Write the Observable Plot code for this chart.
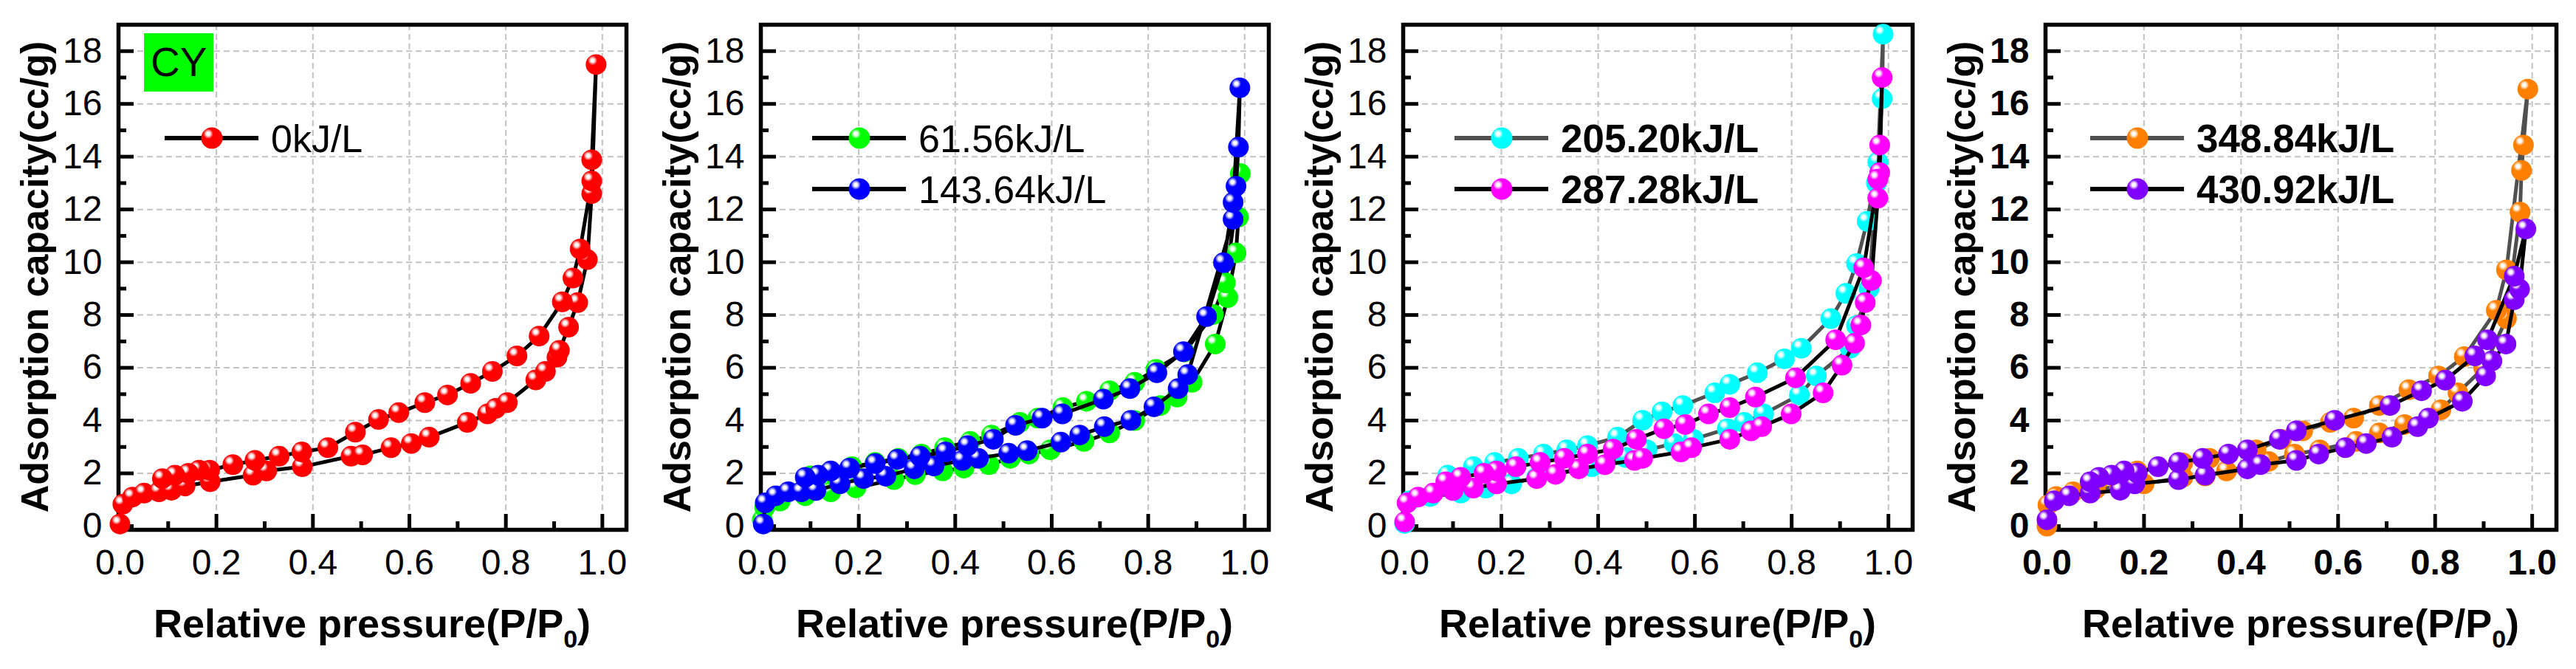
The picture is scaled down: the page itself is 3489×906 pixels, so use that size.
<!DOCTYPE html>
<html><head><meta charset="utf-8">
<script src="https://cdn.jsdelivr.net/npm/d3@7"></script>
<script src="https://cdn.jsdelivr.net/npm/@observablehq/plot@0.6"></script>
<style>
body{margin:0;background:#fff;}
#row{display:flex;width:3489px;height:906px;overflow:hidden;}
#row svg{flex:none;}
</style></head>
<body>
<svg id="defs" width="0" height="0" style="position:absolute;left:0;top:0"></svg>
<div id="row"></div>
<script>
// ---------- data (relative pressure P/P0, adsorbed volume cc/g) ----------
const P0 = [0,0.006,0.026,0.05,0.081,0.107,0.135,0.187,0.276,0.304,0.378,0.479,0.503,0.562,0.604,0.641,0.720,0.762,0.779,0.803,0.862,0.882,0.906,0.911,0.930,0.949,0.969,0.978,0.987,0.978,0.978,0.954,0.939,0.917,0.869,0.823,0.772,0.727,0.679,0.632,0.578,0.536,0.488,0.431,0.377,0.330,0.280,0.234,0.186,0.164,0.142,0.114,0.088];
const V0 = [0.08,0.83,1.1,1.25,1.3,1.36,1.52,1.68,1.93,2.09,2.25,2.65,2.70,2.97,3.13,3.37,3.93,4.25,4.46,4.68,5.54,5.86,6.4,6.66,7.54,8.47,10.1,12.6,17.49,13.88,13.08,10.5,9.4,8.5,7.2,6.45,5.86,5.41,4.97,4.68,4.30,4.04,3.56,2.97,2.81,2.65,2.49,2.33,2.12,2.12,2.0,1.93,1.80];

const P61 = [0,0.005,0.037,0.089,0.142,0.194,0.273,0.317,0.374,0.418,0.470,0.514,0.553,0.597,0.667,0.720,0.772,0.825,0.860,0.891,0.939,0.965,0.982,0.987,0.991,0.960,0.935,0.875,0.816,0.772,0.720,0.672,0.623,0.571,0.534,0.475,0.431,0.378,0.330,0.282,0.234,0.186,0.14,0.1];
const V61 = [0.24,0.7,0.95,1.15,1.3,1.45,1.76,1.95,2.09,2.2,2.33,2.57,2.73,2.89,3.21,3.53,4.0,4.57,4.89,5.45,6.9,8.66,10.35,11.71,13.36,9.22,8.02,6.6,5.94,5.45,5.13,4.73,4.49,4.09,3.93,3.45,3.21,2.97,2.73,2.57,2.41,2.25,2.05,1.9];

const P143 = [0.002,0.006,0.028,0.054,0.081,0.111,0.161,0.210,0.256,0.315,0.356,0.415,0.448,0.511,0.549,0.619,0.658,0.709,0.764,0.812,0.862,0.882,0.976,0.982,0.987,0.990,0.976,0.956,0.921,0.873,0.818,0.762,0.707,0.622,0.580,0.525,0.479,0.426,0.380,0.327,0.280,0.234,0.181,0.142,0.116,0.089];
const V143 = [0.08,0.88,1.15,1.3,1.3,1.35,1.6,1.8,1.89,2.17,2.28,2.49,2.57,2.76,2.86,3.18,3.45,3.77,4.01,4.52,5.21,5.74,11.63,12.88,14.36,16.61,12.27,9.98,7.94,6.61,5.81,5.21,4.81,4.25,4.09,3.82,3.29,3.05,2.81,2.65,2.53,2.37,2.20,2.09,1.93,1.85];

const P205 = [0,0.01,0.053,0.116,0.168,0.221,0.273,0.387,0.457,0.501,0.557,0.597,0.667,0.702,0.742,0.816,0.851,0.921,0.934,0.96,0.975,0.987,0.989,0.978,0.956,0.934,0.912,0.881,0.820,0.785,0.729,0.672,0.641,0.575,0.532,0.492,0.440,0.378,0.335,0.287,0.235,0.186,0.142,0.089];
const V205 = [0.1,0.96,1.12,1.25,1.44,1.6,1.85,2.25,2.6,2.89,3.13,3.29,3.69,3.93,4.25,4.97,5.69,6.74,7.6,9.0,13.0,16.2,18.64,13.8,11.55,9.95,8.82,7.86,6.74,6.34,5.81,5.37,5.05,4.57,4.33,4.01,3.37,3.05,2.89,2.73,2.57,2.41,2.25,1.93];

const P287 = [0,0.005,0.028,0.059,0.1,0.142,0.19,0.273,0.312,0.360,0.414,0.475,0.492,0.571,0.593,0.672,0.716,0.738,0.799,0.865,0.904,0.930,0.943,0.952,0.965,0.978,0.982,0.987,0.982,0.978,0.949,0.891,0.808,0.725,0.672,0.628,0.580,0.536,0.479,0.431,0.378,0.330,0.280,0.230,0.190,0.164,0.116,0.085];
const V287 = [0.16,0.88,1.1,1.25,1.35,1.44,1.6,1.8,1.96,2.17,2.33,2.49,2.57,2.81,2.97,3.29,3.61,3.77,4.25,5.05,6.10,6.93,7.62,8.47,9.31,12.43,13.4,17.0,14.44,13.15,9.79,7.06,5.62,4.89,4.49,4.25,3.85,3.69,3.29,2.92,2.73,2.57,2.41,2.25,2.09,2.0,1.85,1.68];

const P348 = [0,0.002,0.019,0.054,0.1,0.15,0.2,0.28,0.326,0.370,0.457,0.510,0.562,0.637,0.685,0.737,0.812,0.847,0.90,0.947,0.975,0.978,0.982,0.991,0.947,0.926,0.860,0.807,0.746,0.685,0.632,0.584,0.527,0.483,0.431,0.335,0.28,0.186,0.142,0.107];
const V348 = [0,0.8,1.12,1.3,1.4,1.5,1.6,1.85,1.9,2.09,2.45,2.73,2.89,3.21,3.53,3.85,4.41,5.05,6.0,7.86,11.9,13.48,14.44,16.56,9.71,8.18,6.42,5.69,5.17,4.57,4.09,3.93,3.61,3.29,2.89,2.57,2.4,2.09,1.85,1.76];

const P430 = [0,0.015,0.046,0.089,0.151,0.181,0.271,0.326,0.413,0.440,0.514,0.560,0.615,0.658,0.711,0.764,0.786,0.856,0.904,0.917,0.946,0.963,0.974,0.987,0.963,0.908,0.882,0.821,0.772,0.707,0.593,0.514,0.479,0.413,0.374,0.321,0.271,0.229,0.186,0.159,0.133,0.107,0.089];
const V430 = [0.24,0.96,1.15,1.25,1.36,1.6,1.76,1.93,2.17,2.33,2.49,2.73,2.97,3.13,3.37,3.77,4.09,4.73,5.69,6.26,6.90,8.58,8.98,11.26,9.47,7.06,6.45,5.53,5.13,4.57,4.01,3.61,3.29,2.89,2.73,2.57,2.41,2.25,2.01,2.09,1.93,1.85,1.68];

const seriesLabels = ["0kJ/L","61.56kJ/L","143.64kJ/L","205.20kJ/L","287.28kJ/L","348.84kJ/L","430.92kJ/L"];
const xMajor = [0,0.2,0.4,0.6,0.8,1.0];
const xMinor = [0.1,0.3,0.5,0.7,0.9];
const yMajor = [0,2,4,6,8,10,12,14,16,18];
const yMinor = [1,3,5,7,9,11,13,15,17];
const xTitle = ["Relative pressure(P/P", "0", ")"];
const yTitle = "Adsorption capacity(cc/g)";
const tagText = "CY";

// ---------- styles ----------
const FONT = "'Liberation Sans', Arial, Helvetica, sans-serif";
const seriesStyle = [
  {key:"red", color:"#ff0000", line:"#000000"},
  {key:"green", color:"#00ff00", line:"#000000"},
  {key:"blue", color:"#0000ff", line:"#000000"},
  {key:"cyan", color:"#00ffff", line:"#505050"},
  {key:"magenta", color:"#ff00ff", line:"#000000"},
  {key:"orange", color:"#ff8000", line:"#505050"},
  {key:"purple", color:"#8000ff", line:"#000000"}
];
const seriesData = [[P0,V0],[P61,V61],[P143,V143],[P205,V205],[P287,V287],[P348,V348],[P430,V430]];

// gradients for the shaded spheres
const defs = d3.select("#defs").append("defs");
for (const s of seriesStyle) {
  const tint = d3.interpolateRgb(s.color, "#ffffff")(0.6);
  const g = defs.append("radialGradient").attr("id", "g-" + s.key)
    .attr("cx", 0.33).attr("cy", 0.3).attr("r", 0.72).attr("fx", 0.33).attr("fy", 0.3);
  g.append("stop").attr("offset", 0).attr("stop-color", "#ffffff");
  g.append("stop").attr("offset", 0.1).attr("stop-color", "#ffffff");
  g.append("stop").attr("offset", 0.2).attr("stop-color", tint);
  g.append("stop").attr("offset", 0.32).attr("stop-color", s.color);
  g.append("stop").attr("offset", 1).attr("stop-color", s.color);
}

const panels = [
  {series:[0], width:870, mR:22, legendBold:false, tickBold:false, tag:true, legendDx:0},
  {series:[1,2], width:870, mR:22, legendBold:false, tickBold:false, tag:false, legendDx:7},
  {series:[3,4], width:870, mR:20, legendBold:true, tickBold:false, tag:false, legendDx:7},
  {series:[5,6], width:879, mR:27, legendBold:true, tickBold:true, tag:false, legendDx:-2}
];

const H = 906, mL = 160, mT = 33, mB = 189;
const row = document.getElementById("row");

for (const cfg of panels) {
  const W = cfg.width, mR = cfg.mR;
  const pw = W - mL - mR, ph = H - mT - mB;
  const gridStyle = {stroke:"#c2c2c2", strokeOpacity:1, strokeWidth:2, strokeDasharray:"8,5"};
  const marks = [
    Plot.gridX(xMajor.filter(d => d > 0), gridStyle),
    Plot.gridY(yMajor.filter(d => d > 0), gridStyle),
    Plot.frame({stroke:"#000", strokeWidth:5.5}),
    Plot.tickY(yMajor, {y: d => d, insetRight: pw - 21, stroke:"#000", strokeWidth:5}),
    Plot.tickY(yMinor, {y: d => d, insetRight: pw - 11, stroke:"#000", strokeWidth:5}),
    Plot.tickX(xMajor, {x: d => d, insetTop: ph - 21, stroke:"#000", strokeWidth:5}),
    Plot.tickX(xMinor, {x: d => d, insetTop: ph - 11, stroke:"#000", strokeWidth:5})
  ];
  for (const si of cfg.series) {
    const [P, V] = seriesData[si];
    const data = P.map((p, i) => ({p, v: V[i]}));
    const st = seriesStyle[si];
    marks.push(Plot.line(data, {x:"p", y:"v", stroke: st.line, strokeWidth:5, strokeLinejoin:"round"}));
    marks.push(Plot.dot(data, {x:"p", y:"v", r:14, fill:`url(#g-${st.key})`, stroke:"none"}));
  }
  marks.push(Plot.axisX(xMajor, {tickSize:0, tickPadding:26, fontSize:48, tickFormat: d3.format(".1f"), label:null, fontWeight: cfg.tickBold ? "bold" : "normal"}));
  marks.push(Plot.axisY(yMajor, {tickSize:0, tickPadding:22, fontSize:48, label:null, fontWeight: cfg.tickBold ? "bold" : "normal"}));

  const svgEl = Plot.plot({
    width: W, height: H,
    marginLeft: mL, marginRight: mR, marginTop: mT, marginBottom: mB,
    x: {domain: [-0.003, 1.05]},
    y: {domain: [-0.14, 19]},
    style: {fontFamily: FONT, color: "#000", background: "#fff"},
    marks
  });
  const svg = d3.select(svgEl);

  // axis titles
  svg.append("text")
    .attr("transform", `translate(${mL - 95},${mT + ph / 2}) rotate(-90)`)
    .attr("text-anchor", "middle").attr("font-size", 52).attr("font-weight", "bold")
    .attr("fill", "#000").text(yTitle);
  const xt = svg.append("text")
    .attr("x", mL + pw / 2).attr("y", 863)
    .attr("text-anchor", "middle").attr("font-size", 54).attr("font-weight", "bold").attr("fill", "#000");
  xt.append("tspan").text(xTitle[0]);
  xt.append("tspan").attr("font-size", 34).attr("dy", 14).text(xTitle[1]);
  xt.append("tspan").attr("dy", -14).text(xTitle[2]);

  // legend
  const lx = mL + cfg.legendDx;
  cfg.series.forEach((si, k) => {
    const st = seriesStyle[si];
    const y = 187 + k * 69;
    const g = svg.append("g");
    g.append("line").attr("x1", lx + 63).attr("x2", lx + 190).attr("y1", y).attr("y2", y)
      .attr("stroke", st.line).attr("stroke-width", 6);
    g.append("circle").attr("cx", lx + 127).attr("cy", y).attr("r", 14.5).attr("fill", `url(#g-${st.key})`);
    g.append("text").attr("x", lx + 207).attr("y", y + 19).attr("font-size", cfg.legendBold ? 53 : 52)
      .attr("text-anchor", "start")
      .attr("font-weight", cfg.legendBold ? "bold" : "normal").attr("fill", "#000").text(seriesLabels[si]);
  });

  if (cfg.tag) {
    svg.append("rect").attr("x", mL + 35).attr("y", 45).attr("width", 94).attr("height", 79).attr("fill", "#00ff00");
    svg.append("text").attr("x", mL + 44).attr("y", 103).attr("font-size", 55)
      .attr("text-anchor", "start").attr("fill", "#000").text(tagText);
  }
  row.appendChild(svgEl);
}
</script>
</body></html>
